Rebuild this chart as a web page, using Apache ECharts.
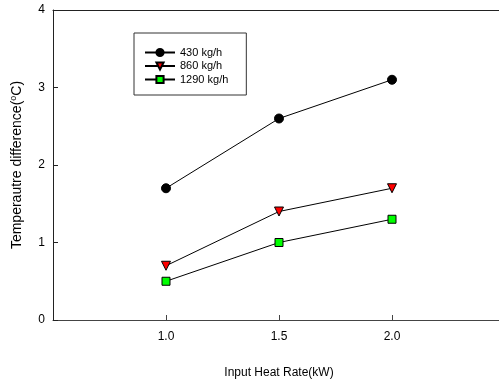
<!DOCTYPE html>
<html><head><meta charset="utf-8">
<script src="https://cdn.jsdelivr.net/npm/echarts@6/dist/echarts.min.js"></script>
<style>html,body{margin:0;padding:0;background:#fff}#c{width:499px;height:382px}</style>
</head><body><div id="c"></div>
<script>
var heatRates = [1.0, 1.5, 2.0];
var flow430 = [1.7, 2.6, 3.1];
var flow860 = [0.7, 1.4, 1.7];
var flow1290 = [0.5, 1.0, 1.3];
var seriesNames = ['430 kg/h', '860 kg/h', '1290 kg/h'];

function pairs(vals){ return heatRates.map(function(x,i){return [x, vals[i]];}); }

var chart = echarts.init(document.getElementById('c'), null, {renderer:'canvas'});
var font = 'Liberation Sans, Arial, sans-serif';
chart.setOption({
  animation:false,
  backgroundColor:'#fff',
  grid:{left:53, right:-6, top:10, bottom:62, containLabel:false, outerBoundsMode:'none', show:false},
  legend:{
    orient:'vertical', left:134, top:33,
    borderColor:'#333', borderWidth:1, padding:[14,18,10,10],
    itemWidth:30, itemHeight:9, itemGap:2.5,
    textStyle:{fontFamily:font, fontSize:11, color:'#000'},
    data:seriesNames
  },
  xAxis:[{
    type:'value', min:0.5, max:2.5, interval:0.5,
    name:'Input Heat Rate(kW)', nameLocation:'middle', nameGap:47,
    nameTextStyle:{fontFamily:font, fontSize:12, color:'#000'},
    axisLine:{lineStyle:{color:'#444', width:1}},
    axisTick:{inside:true, length:5, lineStyle:{color:'#444'}},
    axisLabel:{fontFamily:font, fontSize:12, color:'#000', margin:11,
      showMinLabel:false, showMaxLabel:false,
      formatter:function(v){return v.toFixed(1);}},
    splitLine:{show:false}
  },{
    type:'value', position:'top', min:0.5, max:2.5, interval:0.5,
    axisLine:{show:true, lineStyle:{color:'#222', width:1}},
    axisTick:{show:false}, axisLabel:{show:false}, splitLine:{show:false}
  }],
  yAxis:{
    type:'value', min:0, max:4, interval:1,
    name:'Temperautre difference({s|o}C)', nameLocation:'middle', nameGap:28, nameRotate:90,
    nameTextStyle:{fontFamily:font, fontSize:14, color:'#000',
      rich:{s:{fontFamily:font, fontSize:9, color:'#000', verticalAlign:'top', padding:[0,0,7,0]}}},
    axisLine:{lineStyle:{color:'#222', width:1}},
    axisTick:{inside:true, length:5, lineStyle:{color:'#222'}},
    axisLabel:{fontFamily:font, fontSize:12, color:'#000', margin:8},
    splitLine:{show:false}
  },
  series:[
    {name:seriesNames[0], type:'line', data:pairs(flow430), symbol:'circle', symbolSize:9,
     lineStyle:{color:'#000', width:1}, itemStyle:{color:'#000', borderColor:'#000', borderWidth:1}},
    {name:seriesNames[1], type:'line', data:pairs(flow860), symbol:'triangle', symbolRotate:180, symbolSize:9,
     lineStyle:{color:'#000', width:1}, itemStyle:{color:'#ff0000', borderColor:'#000', borderWidth:1}},
    {name:seriesNames[2], type:'line', data:pairs(flow1290), symbol:'rect', symbolSize:8,
     lineStyle:{color:'#000', width:1}, itemStyle:{color:'#00ff00', borderColor:'#000', borderWidth:1}}
  ]
});
</script></body></html>
